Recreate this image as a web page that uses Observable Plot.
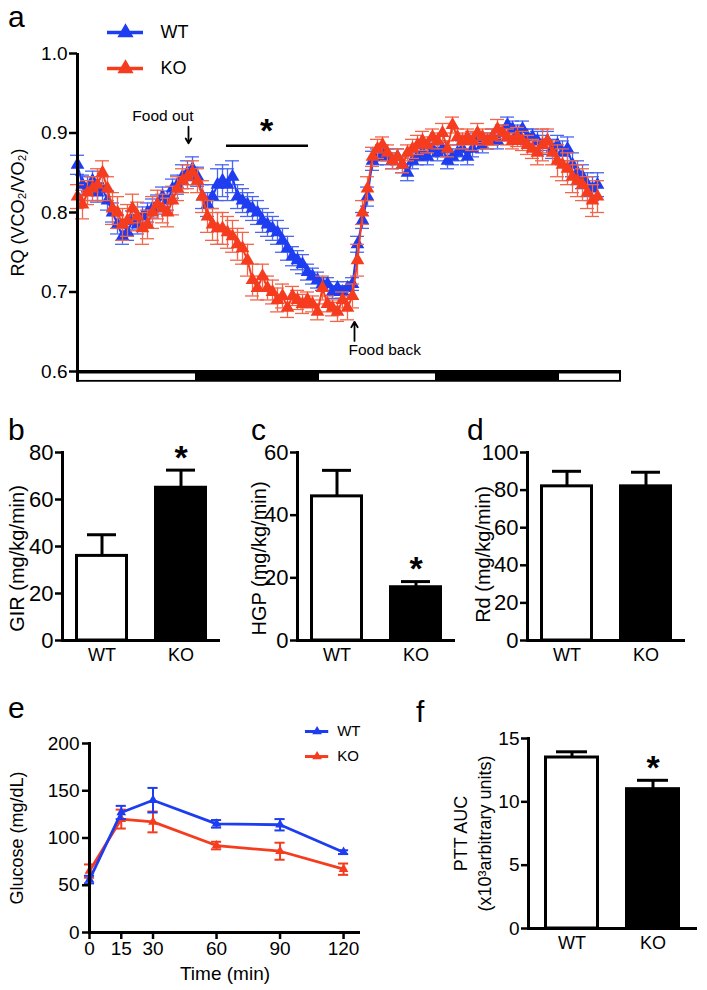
<!DOCTYPE html>
<html><head><meta charset="utf-8">
<script src="https://cdn.jsdelivr.net/npm/d3@7"></script>
<script src="https://cdn.jsdelivr.net/npm/@observablehq/plot@0.6"></script>
<style>
body{margin:0;background:#fff;}
#fig{position:relative;width:707px;height:990px;overflow:hidden;font-family:"Liberation Sans",Arial,sans-serif;}
.letter{position:absolute;font-size:30px;line-height:1;color:#000;font-family:"Liberation Sans",Arial,sans-serif;}
</style></head><body><div id="fig"></div>
<script>
// ---------------- DATA ----------------
// Panel a: RQ time course (hours)
const hours = [0,0.5,1,1.5,2,2.5,3,3.5,4,4.5,5,5.5,6,6.5,7,7.5,8,8.5,9,9.5,10,10.5,11,11.5,12,12.5,13,13.5,14,14.5,15,15.5,16,16.5,17,17.5,18,18.5,19,19.5,20,20.5,21,21.5,22,22.5,23,23.5,24,24.5,25,25.5,26,26.5,27,27.5,28,28.5,29,29.5,30,30.5,31,31.5,32,32.5,33,33.5,34,34.5,35,35.5,36,36.5,37,37.5,38,38.5,39,39.5,40,40.5,41,41.5,42,42.5,43,43.5,44,44.5,45,45.5,46,46.5,47,47.5,48,48.5,49,49.5,50,50.5,51,51.5,52];
const rqWT = [0.86,0.835,0.83,0.84,0.825,0.83,0.815,0.80,0.785,0.77,
0.775,0.79,0.785,0.795,0.80,0.805,0.81,0.82,0.815,0.83,
0.835,0.845,0.85,0.855,0.845,0.82,0.81,0.82,0.835,0.84,
0.835,0.845,0.82,0.815,0.81,0.805,0.80,0.79,0.785,0.78,
0.775,0.765,0.755,0.745,0.74,0.735,0.725,0.72,0.715,0.71,
0.71,0.70,0.705,0.70,0.705,0.71,0.76,0.79,0.82,0.865,
0.87,0.875,0.87,0.865,0.87,0.86,0.85,0.865,0.87,0.875,
0.87,0.88,0.875,0.88,0.865,0.87,0.875,0.88,0.87,0.88,
0.89,0.885,0.89,0.895,0.89,0.90,0.91,0.905,0.90,0.905,
0.895,0.895,0.89,0.885,0.89,0.88,0.885,0.875,0.88,0.86,
0.85,0.845,0.835,0.83,0.835];
const rqWTerr = [0.012,0.012,0.015,0.012,0.012,0.015,0.012,0.012,0.012,0.01,
0.01,0.012,0.012,0.012,0.012,0.012,0.012,0.012,0.012,0.012,
0.012,0.015,0.015,0.015,0.012,0.015,0.015,0.015,0.02,0.02,
0.02,0.02,0.015,0.015,0.015,0.015,0.015,0.015,0.015,0.015,
0.015,0.015,0.015,0.012,0.012,0.012,0.01,0.01,0.01,0.008,
0.008,0.008,0.008,0.008,0.008,0.008,0.01,0.01,0.012,0.012,
0.01,0.01,0.01,0.01,0.01,0.01,0.01,0.01,0.01,0.01,
0.01,0.01,0.01,0.01,0.01,0.01,0.01,0.01,0.01,0.01,
0.01,0.01,0.01,0.01,0.01,0.01,0.01,0.01,0.01,0.01,
0.01,0.01,0.012,0.012,0.012,0.012,0.012,0.015,0.015,0.015,
0.015,0.015,0.015,0.015,0.015];
const rqKO = [0.82,0.81,0.825,0.83,0.835,0.85,0.83,0.805,0.80,0.785,
0.79,0.805,0.795,0.78,0.785,0.80,0.81,0.805,0.80,0.815,
0.83,0.84,0.845,0.85,0.84,0.82,0.795,0.785,0.78,0.78,
0.775,0.77,0.76,0.755,0.74,0.715,0.705,0.72,0.705,0.70,
0.69,0.695,0.68,0.695,0.69,0.685,0.69,0.685,0.675,0.705,
0.685,0.68,0.675,0.69,0.68,0.695,0.74,0.80,0.83,0.87,
0.88,0.885,0.875,0.865,0.87,0.86,0.875,0.88,0.885,0.89,
0.885,0.895,0.89,0.90,0.88,0.91,0.895,0.89,0.895,0.89,
0.90,0.895,0.89,0.895,0.905,0.90,0.895,0.89,0.895,0.89,
0.885,0.88,0.875,0.885,0.89,0.875,0.865,0.86,0.855,0.845,
0.84,0.835,0.825,0.815,0.82];
const rqKOerr = [0.015,0.018,0.015,0.015,0.02,0.015,0.015,0.02,0.02,0.02,
0.02,0.018,0.018,0.02,0.018,0.02,0.018,0.018,0.018,0.018,
0.015,0.015,0.015,0.015,0.015,0.02,0.02,0.02,0.02,0.02,
0.02,0.02,0.02,0.02,0.02,0.02,0.015,0.015,0.015,0.015,
0.015,0.015,0.012,0.012,0.012,0.012,0.01,0.01,0.01,0.015,
0.01,0.01,0.012,0.01,0.015,0.015,0.02,0.015,0.015,0.012,
0.012,0.01,0.01,0.01,0.01,0.01,0.01,0.012,0.012,0.012,
0.01,0.01,0.01,0.012,0.01,0.01,0.01,0.01,0.01,0.012,
0.012,0.01,0.01,0.01,0.012,0.01,0.01,0.01,0.012,0.012,
0.012,0.012,0.015,0.02,0.015,0.015,0.02,0.02,0.02,0.02,
0.02,0.02,0.02,0.02,0.02];
const rqTicks = [0.6,0.7,0.8,0.9,1.0];
const phaseBounds = [0,12,24,36,48,54.4];
const phases = ["light","dark","light","dark","light"];
const groups = ["WT","KO"];

// Panels b-d, f: bar values (WT, KO)
const gir = [36,65], girErr = [9,7.5], girSig = ["","*"];
const hgp = [46,17], hgpErr = [8.3,1.8], hgpSig = ["","*"];
const rd = [82,82], rdErr = [8,7.5], rdSig = ["",""];
const auc = [13.5,11.0], aucErr = [0.45,0.7], aucSig = ["","*"];

// Panel e: glucose tolerance
const gttTime = [0,15,30,60,90,120];
const gluWT = [56,127,140,115,114,85], gluWTerr = [4,7,13,4,6,2];
const gluKO = [65,120,117,92,86,67], gluKOerr = [7,10,11,4,9,6];

// ---------------- STYLE ----------------
const SANS = "'Liberation Sans', Arial, sans-serif";
const NARROW = "'Liberation Sans Narrow', 'Arial Narrow', 'Liberation Sans', sans-serif";
const cWT = "#1e3cf0", cKO = "#f53c1e";
const eWT = "#4a66f2", eKO = "#f2654a";
const fig = document.getElementById("fig");
function place(el, left, top){
  const d = document.createElement("div");
  d.style.cssText = `position:absolute;left:${left}px;top:${top}px;`;
  el.style.maxWidth = "none";
  d.appendChild(el); fig.appendChild(d);
}
function letter(ch, left, top){
  const d = document.createElement("div");
  d.className = "letter"; d.textContent = ch;
  d.style.left = left+"px"; d.style.top = top+"px";
  fig.appendChild(d);
}
const baseStyle = {background:"transparent", overflow:"visible", color:"#000", fontFamily:SANS};

// ---------------- PANEL A ----------------
const rows = (g, vals, errs) => hours.map((t,i)=>({g, t, v:vals[i], e:errs[i]}));
const wtRows = rows("WT", rqWT, rqWTerr), koRows = rows("KO", rqKO, rqKOerr);
const lightRows = phases.map((p,i)=>({p, s:phaseBounds[i], e:phaseBounds[i+1]})).filter(d=>d.p==="light");
const BAR_LOW = 0.5865;
const CAP = 0.7;
function seriesMarks(data, col, ecol){
  return [
    Plot.ruleX(data, {x:"t", y1:d=>d.v-d.e, y2:d=>d.v+d.e, stroke:ecol, strokeWidth:1.3}),
    Plot.ruleY(data, {y:d=>d.v+d.e, x1:d=>d.t-CAP, x2:d=>d.t+CAP, stroke:ecol, strokeWidth:1.3}),
    Plot.ruleY(data, {y:d=>d.v-d.e, x1:d=>d.t-CAP, x2:d=>d.t+CAP, stroke:ecol, strokeWidth:1.3}),
    Plot.line(data, {x:"t", y:"v", stroke:col, strokeWidth:2}),
    Plot.dot(data, {x:"t", y:"v", symbol:"triangle", r:5.1, fill:col, stroke:null})
  ];
}
const legendA = [{g:"WT", y:1.0264, c:cWT},{g:"KO", y:0.981, c:cKO}];
const A = Plot.plot({
  width:707, height:400, marginLeft:77, marginRight:86, marginTop:53, marginBottom:29,
  x:{domain:[phaseBounds[0], phaseBounds[phaseBounds.length-1]], axis:null},
  y:{domain:[0.6,1.0], axis:null},
  style:baseStyle,
  marks:[
    Plot.rect([0], {x1:()=>phaseBounds[0], x2:()=>phaseBounds[phaseBounds.length-1], y1:()=>BAR_LOW, y2:()=>0.6, fill:"black"}),
    Plot.rect(lightRows, {x1:"s", x2:"e", y1:()=>BAR_LOW, y2:()=>0.6, fill:"white", insetTop:2.5, insetBottom:1.8, insetLeft:2, insetRight:2}),
    ...seriesMarks(wtRows, cWT, eWT),
    ...seriesMarks(koRows, cKO, eKO),
    Plot.ruleX([0], {y1:()=>BAR_LOW, y2:()=>1.0, strokeWidth:3}),
    Plot.ruleY([0.6], {strokeWidth:3}),
    Plot.axisY({ticks:rqTicks, tickFormat:d3.format(".1f"), tickSize:8, tickPadding:2, strokeWidth:2.5, fontSize:19, fontFamily:SANS, label:null}),
    Plot.text(["RQ (VCO₂/VO₂)"], {text:d=>d, frameAnchor:"left", textAnchor:"middle", rotate:-90, dx:-59, fontSize:18, fontFamily:SANS}),
    // legend
    Plot.ruleY(legendA, {y:"y", x1:()=>3.0, x2:()=>6.6, stroke:"c", strokeWidth:3.5}),
    Plot.dot(legendA, {x:()=>4.8, y:"y", symbol:"triangle", r:6, fill:"c", stroke:null}),
    Plot.text(legendA, {x:()=>8.3, y:"y", text:"g", textAnchor:"start", fontSize:18, fontFamily:SANS}),
    // annotations
    Plot.text(["Food out"], {text:d=>d, x:()=>11.6, y:()=>0.9208, textAnchor:"end", fontSize:15.5, fontFamily:SANS}),
    Plot.arrow([0], {x1:()=>11.1, x2:()=>11.1, y1:()=>0.908, y2:()=>0.887, strokeWidth:1.8, headLength:7}),
    Plot.text(["Food back"], {text:d=>d, x:()=>27.1, y:()=>0.6264, textAnchor:"start", fontSize:15.5, fontFamily:SANS}),
    Plot.arrow([0], {x1:()=>27.7, x2:()=>27.7, y1:()=>0.6385, y2:()=>0.6625, strokeWidth:1.8, headLength:7}),
    Plot.ruleY([0.884], {x1:()=>14.9, x2:()=>23.1, strokeWidth:2.5}),
    Plot.text(["*"], {text:d=>d, x:()=>18.9, y:()=>0.902, fontSize:34, fontWeight:"bold", fontFamily:SANS})
  ]
});
place(A, 0, 0);
letter("a", 8, 2);

// ---------------- BAR PANELS ----------------
function barPanel({vals, errs, sig, yDomain, yTicks, ylabel, width, height, mL, mR, mT, mB, labelDx, labelDy, tickFont, tickSize, labelFont, labelSize, pInner, pOuter, starDy, lineHeight}){
  const data = groups.map((g,i)=>({g, v:vals[i], e:errs[i], s:sig[i]}));
  return Plot.plot({
    width, height, marginLeft:mL, marginRight:mR, marginTop:mT, marginBottom:mB,
    x:{type:"band", domain:groups, paddingInner:pInner, paddingOuter:pOuter, axis:null},
    y:{domain:yDomain, axis:null},
    style:baseStyle,
    marks:[
      Plot.ruleX(data, {x:"g", y1:"v", y2:d=>d.v+d.e, strokeWidth:3}),
      Plot.tickY(data, {x:"g", y:d=>d.v+d.e, strokeWidth:3, insetLeft:12, insetRight:12}),
      Plot.barY(data, {x:"g", y:"v", fill:d=>d.g==="KO"?"black":"white", stroke:"black", strokeWidth:3, insetLeft:1.5, insetRight:1.5}),
      Plot.text(data.filter(d=>d.s), {x:"g", y:d=>d.v+d.e, text:"s", dy:starDy, fontSize:34, fontWeight:"bold", fontFamily:SANS}),
      Plot.ruleY([yDomain[0]], {strokeWidth:3}),
      Plot.frame({anchor:"left", strokeWidth:3}),
      Plot.axisY({ticks:yTicks, tickSize:7, tickPadding:2, strokeWidth:2.5, fontSize:tickSize, fontFamily:tickFont, label:null}),
      Plot.axisX({tickSize:0, tickPadding:8, fontSize:18, fontFamily:SANS, label:null}),
      Plot.text([ylabel], {text:d=>d, frameAnchor:"left", textAnchor:"middle", lineAnchor:"middle", lineHeight:lineHeight||1, rotate:-90, dx:labelDx, dy:labelDy||0, fontSize:labelSize, fontFamily:labelFont})
    ]
  });
}
const bdCommon = {height:280, mT:52, mB:40, tickFont:NARROW, tickSize:22, labelFont:NARROW, labelSize:20, labelDy:12, pInner:0.33, pOuter:0.165, starDy:-12};
place(barPanel({...bdCommon, vals:gir, errs:girErr, sig:girSig, yDomain:[0,80], yTicks:[0,20,40,60,80], ylabel:"GIR (mg/kg/min)", width:240, mL:62, mR:20, labelDx:-45}), 0, 400);
place(barPanel({...bdCommon, vals:hgp, errs:hgpErr, sig:hgpSig, yDomain:[0,60], yTicks:[0,20,40,60], ylabel:"HGP (mg/kg/min)", width:230, mL:57, mR:15, labelDx:-38}), 240, 400);
place(barPanel({...bdCommon, vals:rd, errs:rdErr, sig:rdSig, yDomain:[0,100], yTicks:[0,20,40,60,80,100], ylabel:"Rd (mg/kg/min)", width:237, mL:57, mR:22, labelDx:-44, labelDy:8}), 470, 400);
letter("b", 8, 415); letter("c", 251, 415); letter("d", 467, 415);

// panel f
place(barPanel({vals:auc, errs:aucErr, sig:aucSig, yDomain:[0,15], yTicks:[0,5,10,15], ylabel:"PTT AUC\n(x10³arbitrary units)", width:307, height:300, mL:128, mR:10, mT:48, mB:62, labelDx:-57, tickFont:SANS, tickSize:19, labelFont:SANS, labelSize:18, pInner:0.317, pOuter:0.19, starDy:-12, lineHeight:1.3}), 400, 690);
letter("f", 416, 697);

// ---------------- PANEL E ----------------
const gRows = (g, vals, errs) => gttTime.map((t,i)=>({g, t, v:vals[i], e:errs[i]}));
const gWT = gRows("WT", gluWT, gluWTerr), gKO = gRows("KO", gluKO, gluKOerr);
const GCAP = 2.4;
function gMarks(data, col){
  return [
    Plot.ruleX(data, {x:"t", y1:d=>d.v-d.e, y2:d=>d.v+d.e, stroke:col, strokeWidth:2}),
    Plot.ruleY(data, {y:d=>d.v+d.e, x1:d=>d.t-GCAP, x2:d=>d.t+GCAP, stroke:col, strokeWidth:2}),
    Plot.ruleY(data, {y:d=>d.v-d.e, x1:d=>d.t-GCAP, x2:d=>d.t+GCAP, stroke:col, strokeWidth:2}),
    Plot.line(data, {x:"t", y:"v", stroke:col, strokeWidth:2.8}),
    Plot.dot(data, {x:"t", y:"v", symbol:"triangle", r:3.6, fill:col, stroke:null})
  ];
}
const legendE = [{g:"WT", y:212.7, c:cWT},{g:"KO", y:186.2, c:cKO}];
const E = Plot.plot({
  width:400, height:300, marginLeft:89, marginRight:40, marginTop:53, marginBottom:58,
  x:{domain:[0,128], axis:null},
  y:{domain:[0,200], axis:null},
  style:baseStyle,
  marks:[
    ...gMarks(gKO, cKO),
    ...gMarks(gWT, cWT),
    Plot.ruleY([0], {strokeWidth:3}),
    Plot.frame({anchor:"left", strokeWidth:3}),
    Plot.axisY({ticks:[0,50,100,150,200], tickSize:7, tickPadding:3, strokeWidth:2.5, fontSize:19, fontFamily:SANS, label:null}),
    Plot.axisX({ticks:gttTime, tickSize:7, tickPadding:2, strokeWidth:2.5, fontSize:19, fontFamily:SANS, label:null}),
    Plot.text(["Time (min)"], {text:d=>d, frameAnchor:"bottom", lineAnchor:"middle", dy:41, fontSize:19, fontFamily:SANS}),
    Plot.text(["Glucose (mg/dL)"], {text:d=>d, frameAnchor:"left", textAnchor:"middle", lineAnchor:"middle", rotate:-90, dx:-72, fontSize:18, fontFamily:SANS}),
    Plot.ruleY(legendE, {y:"y", x1:()=>102, x2:()=>113, stroke:"c", strokeWidth:3}),
    Plot.dot(legendE, {x:()=>107.5, y:"y", symbol:"triangle", r:3.6, fill:"c", stroke:null}),
    Plot.text(legendE, {x:()=>117, y:"y", text:"g", textAnchor:"start", fontSize:15, fontFamily:SANS})
  ]
});
place(E, 0, 690);
letter("e", 8, 693);
</script>
</body></html>
